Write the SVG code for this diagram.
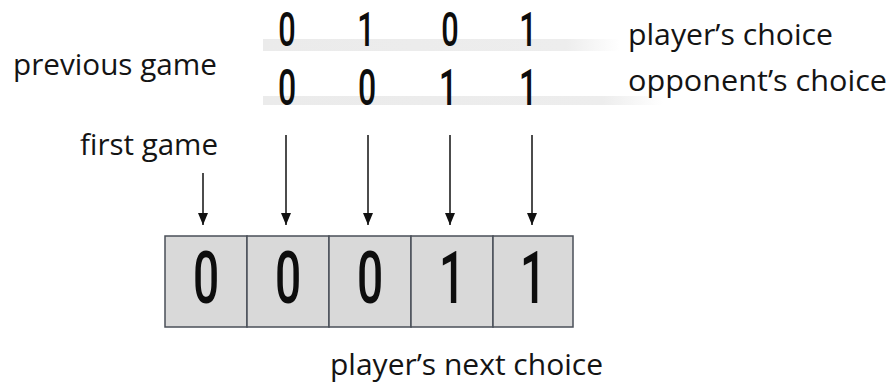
<svg xmlns="http://www.w3.org/2000/svg" width="893" height="383" viewBox="0 0 893 383">
<style>
.lbl{font-family:"Open Sans","Noto Sans","Liberation Sans",sans-serif;font-size:30px;fill:#141414}
.dig{font-family:Roboto,"Liberation Sans",sans-serif;font-weight:500;fill:#0d0d0d;text-anchor:middle}
.cell{fill:#d9d9d9;stroke:#4a4f58;stroke-width:1.5}
.arr{stroke:#111;stroke-width:1.5;fill:none;marker-end:url(#ah)}
</style>
<defs>
<marker id="ah" viewBox="0 0 12 10" refX="12" refY="5" markerWidth="12" markerHeight="10" markerUnits="userSpaceOnUse" orient="auto">
<path d="M0,0 L12,5 L0,10 z" fill="#111"/>
</marker>
<linearGradient id="band1" x1="0" x2="1" y1="0" y2="0">
<stop offset="0" stop-color="#ebebeb"/>
<stop offset="0.85" stop-color="#ededed"/>
<stop offset="1" stop-color="#ffffff"/>
</linearGradient>
</defs>
<rect x="263" y="39" width="357" height="12" fill="url(#band1)"/>
<rect x="263" y="96" width="400" height="9" fill="url(#band1)"/>
<g id="row-player">
<text class="dig" font-size="48" transform="translate(287,46) scale(0.64,1)">0</text>
<text class="dig" font-size="48" transform="translate(366,46) scale(0.64,1)">1</text>
<text class="dig" font-size="48" transform="translate(450,46) scale(0.64,1)">0</text>
<text class="dig" font-size="48" transform="translate(528,46) scale(0.64,1)">1</text>
</g>
<g id="row-opponent">
<text class="dig" font-size="50" transform="translate(287,105) scale(0.64,1)">0</text>
<text class="dig" font-size="50" transform="translate(367,105) scale(0.64,1)">0</text>
<text class="dig" font-size="50" transform="translate(448,105) scale(0.64,1)">1</text>
<text class="dig" font-size="50" transform="translate(528,105) scale(0.64,1)">1</text>
</g>
<g id="labels">
<text class="lbl" x="628" y="45" textLength="205" lengthAdjust="spacingAndGlyphs">player’s choice</text>
<text class="lbl" x="628" y="91" textLength="259" lengthAdjust="spacingAndGlyphs">opponent’s choice</text>
<text class="lbl" x="13" y="75" textLength="204" lengthAdjust="spacingAndGlyphs">previous game</text>
<text class="lbl" x="80" y="155" textLength="138" lengthAdjust="spacingAndGlyphs">first game</text>
<text class="lbl" x="330" y="375" textLength="273" lengthAdjust="spacingAndGlyphs">player’s next choice</text>
</g>
<g id="connectors">
<line class="arr" x1="203" y1="173" x2="203" y2="225"/>
<line class="arr" x1="286" y1="135" x2="286" y2="225"/>
<line class="arr" x1="368" y1="135" x2="368" y2="225"/>
<line class="arr" x1="450" y1="135" x2="450" y2="225"/>
<line class="arr" x1="532" y1="135" x2="532" y2="225"/>
</g>
<g id="cell1"><rect class="cell" x="165" y="236" width="82" height="91"/><text class="dig" font-size="72" transform="translate(206,303) scale(0.64,1)">0</text></g>
<g id="cell2"><rect class="cell" x="247" y="236" width="82" height="91"/><text class="dig" font-size="72" transform="translate(288,303) scale(0.64,1)">0</text></g>
<g id="cell3"><rect class="cell" x="329" y="236" width="82" height="91"/><text class="dig" font-size="72" transform="translate(370,303) scale(0.64,1)">0</text></g>
<g id="cell4"><rect class="cell" x="411" y="236" width="82" height="91"/><text class="dig" font-size="72" transform="translate(452,303) scale(0.64,1)">1</text></g>
<g id="cell5"><rect class="cell" x="493" y="236" width="80" height="91"/><text class="dig" font-size="72" transform="translate(533,303) scale(0.64,1)">1</text></g>
</svg>
